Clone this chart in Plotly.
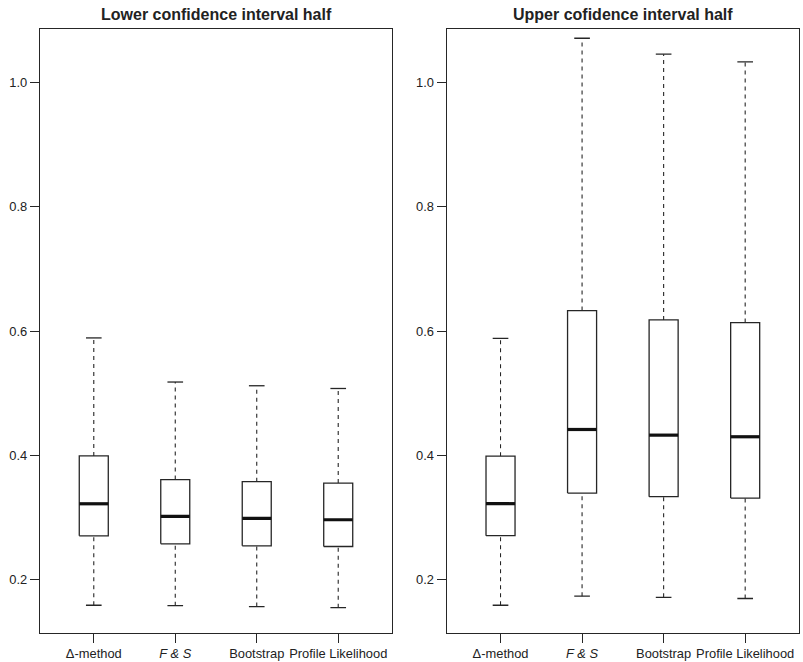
import plotly.graph_objects as go

categories = ["Δ-method", "<i>F &amp; S</i>", "Bootstrap", "Profile Likelihood"]
panel_titles = ["Lower confidence interval half", "Upper cofidence interval half"]

# Lower half
lower_min = [0.1587, 0.1580, 0.1565, 0.1548]
lower_q1 = [0.2705, 0.2576, 0.2543, 0.2532]
lower_med = [0.3220, 0.3016, 0.2984, 0.2963]
lower_q3 = [0.3990, 0.3610, 0.3576, 0.3553]
lower_max = [0.5890, 0.5180, 0.5120, 0.5076]

# Upper half
upper_min = [0.1587, 0.1732, 0.1715, 0.1695]
upper_q1 = [0.2707, 0.3392, 0.3334, 0.3312]
upper_med = [0.3222, 0.4416, 0.4325, 0.4299]
upper_q3 = [0.3987, 0.6330, 0.6180, 0.6137]
upper_max = [0.5884, 1.0714, 1.0457, 1.0333]

y_ticks = [0.2, 0.4, 0.6, 0.8, 1.0]

BOX_HALF = 0.178
CAP_HALF = 0.096
LINE_COL = "#262626"

fig = go.Figure()

def add_panel(fig, xref, yref, mins, q1s, meds, q3s, maxs):
    for i in range(len(categories)):
        x = i + 1
        # whiskers (dashed)
        for a, b in ((q3s[i], maxs[i]), (mins[i], q1s[i])):
            fig.add_trace(go.Scatter(x=[x, x], y=[a, b], mode="lines",
                                     line=dict(color=LINE_COL, width=1.1, dash="4px,4px"),
                                     xaxis=xref, yaxis=yref, showlegend=False, hoverinfo="skip"))
        # caps
        for v in (mins[i], maxs[i]):
            fig.add_trace(go.Scatter(x=[x - CAP_HALF, x + CAP_HALF], y=[v, v], mode="lines",
                                     line=dict(color=LINE_COL, width=1.3),
                                     xaxis=xref, yaxis=yref, showlegend=False, hoverinfo="skip"))
        # box
        fig.add_trace(go.Scatter(
            x=[x - BOX_HALF, x + BOX_HALF, x + BOX_HALF, x - BOX_HALF, x - BOX_HALF],
            y=[q1s[i], q1s[i], q3s[i], q3s[i], q1s[i]], mode="lines",
            fill="toself", fillcolor="white",
            line=dict(color=LINE_COL, width=1.3),
            xaxis=xref, yaxis=yref, showlegend=False, hoverinfo="skip"))
        # median
        fig.add_trace(go.Scatter(x=[x - BOX_HALF, x + BOX_HALF], y=[meds[i], meds[i]], mode="lines",
                                 line=dict(color="#111111", width=3.2),
                                 xaxis=xref, yaxis=yref, showlegend=False, hoverinfo="skip"))

add_panel(fig, "x", "y", lower_min, lower_q1, lower_med, lower_q3, lower_max)
add_panel(fig, "x2", "y2", upper_min, upper_q1, upper_med, upper_q3, upper_max)

FONT = dict(family="Liberation Sans, Arial, sans-serif", size=12.9, color="#222222")
TFONT = dict(family="Liberation Sans, Arial, sans-serif", size=16, color="#222222")
y_dom = [1 - 632.5 / 662, 1 - 29.3 / 662]

xax = dict(range=[0.34, 4.66], tickmode="array", tickvals=[1, 2, 3, 4], ticktext=categories,
           ticks="outside", ticklen=9, tickwidth=1.3, tickcolor=LINE_COL,
           showline=True, mirror=True, linecolor=LINE_COL, linewidth=1.4,
           showgrid=False, zeroline=False, tickfont=FONT, fixedrange=True)
yax = dict(range=[0.1148, 1.0858], tickmode="array", tickvals=y_ticks,
           ticktext=[f"{v:.1f}" for v in y_ticks],
           ticks="outside", ticklen=9, tickwidth=1.3, tickcolor=LINE_COL,
           showline=True, mirror=True, linecolor=LINE_COL, linewidth=1.4,
           showgrid=False, zeroline=False, tickfont=FONT, fixedrange=True)

fig.update_layout(
    width=803, height=662,
    margin=dict(l=0, r=0, t=0, b=0),
    paper_bgcolor="white", plot_bgcolor="white",
    xaxis=dict(domain=[40 / 803, 392 / 803], anchor="y", **xax),
    yaxis=dict(domain=y_dom, anchor="x", **yax),
    xaxis2=dict(domain=[446.7 / 803, 799 / 803], anchor="y2", **xax),
    yaxis2=dict(domain=y_dom, anchor="x2", **yax),
    annotations=[
        dict(text=f"<b>{panel_titles[0]}</b>", x=(40 + 392) / 2 / 803, y=1 - 15 / 662,
             xref="paper", yref="paper", showarrow=False, xanchor="center", yanchor="middle",
             font=TFONT),
        dict(text=f"<b>{panel_titles[1]}</b>", x=(446.7 + 799) / 2 / 803, y=1 - 15 / 662,
             xref="paper", yref="paper", showarrow=False, xanchor="center", yanchor="middle",
             font=TFONT),
    ],
)

fig.write_html("out.html")
